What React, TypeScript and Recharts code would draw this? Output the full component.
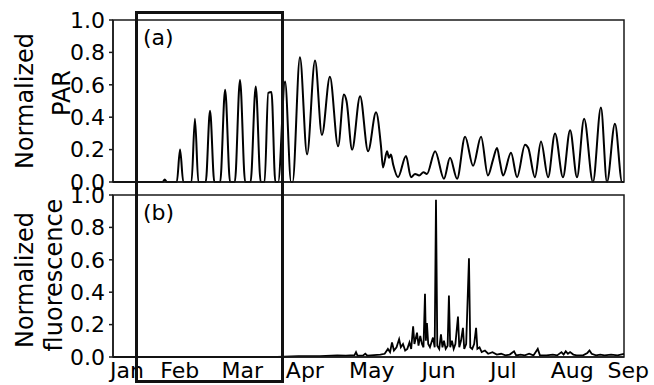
import { LineChart, Line, XAxis, YAxis, ReferenceArea } from 'recharts';

// x values are day-of-year (Jan 1 = 0)
const X_MIN = 14;
const X_MAX = 251;
const MONTH_STARTS = [31, 59, 90, 120, 151, 181, 212, 243];
const MONTH_NAMES = ['Jan', 'Feb', 'Mar', 'Apr', 'May', 'Jun', 'Jul', 'Aug', 'Sep'];
const MONTH_LABEL_DAYS = [20.5, 45, 74, 103, 134, 165, 195, 227, 253];
const Y_TICKS = [0, 0.2, 0.4, 0.6, 0.8, 1];
const HIGHLIGHT_DAYS = [24.9, 92.6];

// [day, normalized PAR]
const PAR_POINTS: [number, number][] = [
  [14, 0], [37, 0], [38, 0.015], [39, 0],
  [43.6, 0], [45.1, 0.2], [46.6, 0],
  [50.4, 0], [52, 0.39], [53.6, 0],
  [57, 0], [59, 0.44], [61, 0],
  [63.7, 0], [66, 0.57], [68.3, 0],
  [70.5, 0], [72.9, 0.63], [75.3, 0],
  [77.8, 0], [80.2, 0.59], [82.5, 0],
  [84.3, 0], [86, 0.55], [87.5, 0.555], [89.3, 0],
  [90.6, 0], [93.8, 0.62], [96.6, 0],
  [97.3, 0], [100.7, 0.77], [104, 0.17],
  [107.7, 0.75], [110.9, 0.29], [114.6, 0.65], [118.4, 0.22],
  [121.1, 0.54], [122.3, 0.5], [124.9, 0.2], [128.6, 0.53], [132.3, 0.19],
  [136, 0.43], [138.3, 0.22], [139.2, 0.09], [141.1, 0.19], [142, 0.15],
  [142.9, 0.17], [143.9, 0.11], [146.2, 0.03], [149.9, 0.16], [152.2, 0.03],
  [154.1, 0.05], [156, 0.04], [158, 0.06], [159.6, 0.05], [163.4, 0.19],
  [167.5, 0.02], [170.3, 0.15], [173.6, 0.02], [177.3, 0.28], [181, 0.1],
  [184.7, 0.28], [187.9, 0.04], [190.3, 0.14], [192.1, 0.21], [193.5, 0.12],
  [194.9, 0.04], [198.6, 0.18], [201.4, 0.03], [205.1, 0.23], [206.6, 0.21],
  [209.7, 0.03], [212.5, 0.25], [215.8, 0.03], [219, 0.3], [222.7, 0.03],
  [226, 0.32], [229.2, 0.03], [232.5, 0.39], [236.6, 0], [240.3, 0.46],
  [243.1, 0], [246.8, 0.36], [250.1, 0], [251, 0],
];

// [day, normalized fluorescence]
const FLUO_POINTS: [number, number][] = [
  [14, 0], [90, 0], [100, 0.005], [110, 0.005], [118, 0.01], [122, 0.008],
  [126, 0.012], [126.7, 0.03], [127.4, 0.008], [130, 0.01], [131, 0.02],
  [132, 0.008], [135, 0.012], [138, 0.015], [140, 0.02], [141.5, 0.05],
  [142.5, 0.03], [143.4, 0.09], [144.3, 0.04], [145.5, 0.06], [146.7, 0.11],
  [147.5, 0.06], [148.5, 0.08], [149.5, 0.04], [150.5, 0.05], [151.5, 0.09],
  [152.3, 0.05], [153.2, 0.19], [153.8, 0.08], [154.5, 0.12], [155, 0.15],
  [155.7, 0.07], [156.5, 0.13], [157.3, 0.08], [158, 0.06], [158.7, 0.39],
  [159.1, 0.1], [159.6, 0.21], [160.2, 0.08], [161, 0.06], [162.4, 0.12],
  [163.2, 0.06], [163.8, 0.97], [164.4, 0.07], [165.3, 0.05], [166.1, 0.14],
  [166.8, 0.06], [167.5, 0.1], [168.3, 0.05], [169.2, 0.07], [169.8, 0.38],
  [170.4, 0.06], [171.2, 0.1], [172, 0.05], [172.8, 0.08], [174, 0.25],
  [174.6, 0.06], [175.4, 0.1], [176.3, 0.18], [176.9, 0.05], [177.8, 0.08],
  [179.1, 0.61], [179.7, 0.06], [180.6, 0.05], [181.5, 0.08], [182.4, 0.18],
  [183, 0.05], [184, 0.06], [185, 0.03], [186.5, 0.04], [188, 0.02],
  [190, 0.03], [192, 0.015], [194, 0.02], [196, 0.01], [198, 0.015],
  [200, 0.035], [201, 0.01], [203, 0.015], [205, 0.01], [207, 0.02],
  [209, 0.01], [211, 0.05], [212, 0.01], [215, 0.01], [218, 0.015],
  [220, 0.01], [222, 0.03], [223, 0.015], [224, 0.035], [225, 0.02],
  [226, 0.03], [227.5, 0.015], [229, 0.01], [232, 0.01], [234, 0.025],
  [235, 0.04], [236, 0.02], [238, 0.01], [240, 0.015], [242, 0.01],
  [245, 0.015], [248, 0.01], [251, 0.02],
];

const parData = PAR_POINTS.map(([day, value]) => ({ day, value }));
const fluoData = FLUO_POINTS.map(([day, value]) => ({ day, value }));

const FONT = 'DejaVu Sans';
const WIDTH = 654;
const PLOT_LEFT = 113;
const PLOT_RIGHT = 624;
const AXIS_COLOR = '#1a1a1a';
const PX_PER_DAY = (PLOT_RIGHT - PLOT_LEFT) / (X_MAX - X_MIN);

const tickStyle = { fontSize: 22, fill: '#000', fontFamily: FONT };

function AxisTitle({ lines, tag }: { lines: { text: string; x: number; y: number }[]; tag: { text: string; x: number; y: number } }) {
  return (
    <g fontFamily={FONT} fill="#000">
      {lines.map((l) => (
        <text
          key={l.text}
          x={l.x}
          y={l.y}
          fontSize={24}
          textAnchor="middle"
          transform={`rotate(-90 ${l.x} ${l.y})`}
        >
          {l.text}
        </text>
      ))}
      <text x={tag.x} y={tag.y} fontSize={22}>
        {tag.text}
      </text>
    </g>
  );
}

function MonthTick(props: any) {
  const { x, y, payload } = props;
  const i = MONTH_LABEL_DAYS.indexOf(payload.value);
  return (
    <text x={x} y={y} dy={15} textAnchor="middle" {...tickStyle}>
      {MONTH_NAMES[i]}
    </text>
  );
}

function Panel({ data, height, top, bottom, bottomLabels, title, tag, linear }: any) {
  return (
    <LineChart
      width={WIDTH}
      height={height}
      data={data}
      margin={{ top, right: WIDTH - PLOT_RIGHT, bottom, left: 0 }}
      style={{ overflow: 'visible' }}
    >
      <XAxis
        dataKey="day"
        type="number"
        domain={[X_MIN, X_MAX]}
        ticks={MONTH_STARTS}
        interval={0}
        tick={false}
        tickSize={4}
        height={6}
        stroke={AXIS_COLOR}
        strokeWidth={1.5}
      />
      {bottomLabels && (
        <XAxis
          xAxisId="lbl"
          dataKey="day"
          type="number"
          domain={[X_MIN, X_MAX]}
          allowDataOverflow
          ticks={MONTH_LABEL_DAYS}
          interval={0}
          tickLine={false}
          axisLine={false}
          tickSize={0}
          tickMargin={0}
          height={22}
          tick={<MonthTick />}
        />
      )}
      <YAxis
        type="number"
        domain={[0, 1]}
        ticks={Y_TICKS}
        interval={0}
        width={PLOT_LEFT}
        tickSize={4}
        tickMargin={4}
        tick={tickStyle}
        tickFormatter={(v: number) => v.toFixed(1)}
        stroke={AXIS_COLOR}
        strokeWidth={1.5}
        label={{ content: () => <AxisTitle lines={title} tag={tag} /> }}
      />
      <ReferenceArea
        x1={X_MIN}
        x2={X_MAX}
        y1={0}
        y2={1}
        fill="none"
        stroke={AXIS_COLOR}
        strokeWidth={1.5}
        fillOpacity={0}
      />
      <Line
        type={linear ? 'linear' : 'monotone'}
        dataKey="value"
        stroke="#000"
        strokeWidth={linear ? 1.8 : 2}
        dot={false}
        isAnimationActive={false}
      />
    </LineChart>
  );
}

export default function App() {
  const boxLeft = PLOT_LEFT + (HIGHLIGHT_DAYS[0] - X_MIN) * PX_PER_DAY;
  const boxRight = PLOT_LEFT + (HIGHLIGHT_DAYS[1] - X_MIN) * PX_PER_DAY;
  return (
    <div style={{ position: 'relative', width: WIDTH, height: 385, background: '#fff', overflow: 'hidden' }}>
      <style>{'body{margin:0}'}</style>
      <div style={{ position: 'absolute', left: 0, top: 0 }}>
        <Panel
          data={parData}
          height={200}
          top={20}
          bottom={12}
          title={[
            { text: 'Normalized', x: 33, y: 101 },
            { text: 'PAR', x: 70, y: 93 },
          ]}
          tag={{ text: '(a)', x: 143, y: 45 }}
        />
      </div>
      <div style={{ position: 'absolute', left: 0, top: 185 }}>
        <Panel
          data={fluoData}
          height={200}
          top={10}
          bottom={0}
          bottomLabels
          linear
          title={[
            { text: 'Normalized', x: 33, y: 95 },
            { text: 'fluorescence', x: 62, y: 90 },
          ]}
          tag={{ text: '(b)', x: 143, y: 35 }}
        />
      </div>
      <div
        style={{
          position: 'absolute',
          left: boxLeft - 1.5,
          top: 11,
          width: boxRight - boxLeft + 3,
          height: 372,
          border: '3px solid #111',
          boxSizing: 'border-box',
          pointerEvents: 'none',
        }}
      />
    </div>
  );
}
